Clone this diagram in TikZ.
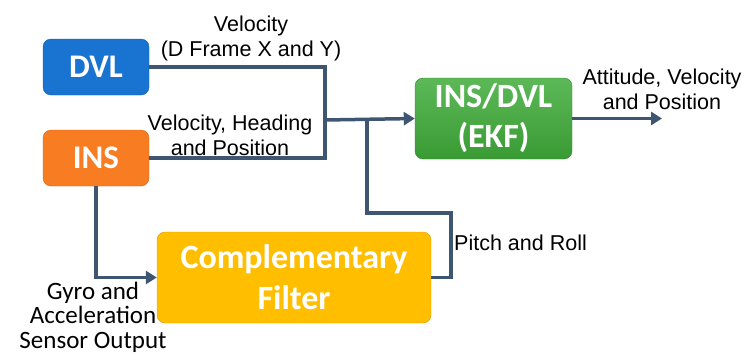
\documentclass[tikz,border=0pt]{standalone}
\usepackage{fontspec}
\setmainfont{Liberation Sans}
\newfontfamily\boxfont{Carlito}
\usetikzlibrary{arrows.meta}
\definecolor{dvlblue}{RGB}{24,115,209}
\definecolor{insorange}{RGB}{248,124,34}
\definecolor{ekfgreen}{RGB}{64,172,58}
\definecolor{cfgold}{RGB}{255,190,0}
\definecolor{linecol}{RGB}{62,86,114}
\tikzset{
  blockbox/.style={rounded corners=8pt, inner sep=0pt, align=center, text=white,
    font=\boxfont\bfseries\fontsize{33}{36}\selectfont},
  conn/.style={draw=linecol, line width=3.5pt},
  arr/.style={conn, -{Triangle[length=11pt,width=13pt]}},
  lbl/.style={align=center, font=\fontsize{21.5}{25}\selectfont, inner sep=0pt},
  glbl/.style={align=center, font=\boxfont\fontsize{25}{24.5}\selectfont, inner sep=0pt}
}
\begin{document}
\begin{tikzpicture}[x=1pt,y=-1pt]
\useasboundingbox (0,0) rectangle (744,356);
\node[blockbox, fill=dvlblue, draw=dvlblue!80!black, minimum width=106pt, minimum height=56pt] (dvl) at (96,67) {DVL};
\node[blockbox, fill=insorange, draw=insorange!85!black, minimum width=106pt, minimum height=56pt] (ins) at (96,158) {INS};
\node[blockbox, top color=ekfgreen!85!white, bottom color=ekfgreen!90!black, draw=ekfgreen!80!black, minimum width=157pt, minimum height=81pt, font=\boxfont\bfseries\fontsize{34}{40}\selectfont] (ekf) at (493.5,118.5) {INS/DVL\\(EKF)};
\node[blockbox, fill=cfgold, draw=cfgold!85!black, minimum width=274pt, minimum height=91pt, font=\boxfont\bfseries\fontsize{34}{41}\selectfont] (cf) at (294,277.5) {Complementary\\Filter};

\coordinate (j) at (325,120);
\coordinate (k) at (367,120);
\coordinate (out) at (662,118.5);

\draw[conn] (dvl.east) -| (j);
\draw[conn] (ins.east) -| (j);
\draw[arr] (j) -- (ekf.west);
\draw[conn] (cf.east) -- (451,277.5) -- (451,213) -- (367,213) -- (k);
\draw[arr] (ins.south) |- (cf.west);
\draw[arr] (ekf.east) -- (out);

\node[lbl] (l1) at (251,38) {Velocity\\(D Frame X and Y)};
\node[lbl] (l2) at (230,135) {Velocity, Heading\\and Position};
\node[lbl] (l3) at (662,89) {Attitude, Velocity\\and Position};
\node[lbl, anchor=west] (l4) at (454,243) {Pitch and Roll};
\node[glbl] (l5) at (93,317) {Gyro and\\Acceleration\\Sensor Output};
\end{tikzpicture}
\end{document}
